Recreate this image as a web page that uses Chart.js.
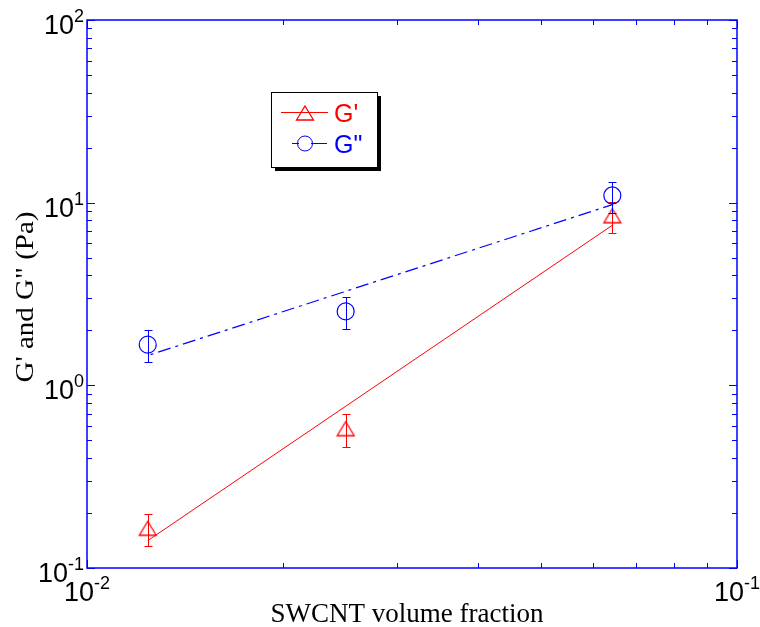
<!DOCTYPE html>
<html>
<head>
<meta charset="utf-8">
<script src="https://cdn.jsdelivr.net/npm/chart.js@4/dist/chart.umd.min.js"></script>
<style>
  html, body { margin: 0; padding: 0; background: #ffffff; }
  #wrap { width: 760px; height: 627px; position: relative; }
</style>
</head>
<body>
<div id="wrap"><canvas id="c" width="760" height="627"></canvas></div>
<script>
// ---- data ----
const volumeFraction   = [0.0124, 0.025, 0.0643];
const gPrime           = [0.165, 0.579, 8.48];
const gPrimeLow        = [0.132, 0.4625, 6.8];
const gPrimeHigh       = [0.197, 0.696, 10.1];
const gDoublePrime     = [1.67, 2.54, 10.95];
const gDoublePrimeLow  = [1.335, 2.04, 8.73];
const gDoublePrimeHigh = [2.0, 3.05, 13.02];
const fitX             = [0.0124, 0.0643];
const gPrimeFit        = [0.1412, 7.52];
const gDoublePrimeFit  = [1.455, 9.75];
const xTickExponents   = [-2, -1];
const yTickExponents   = [-1, 0, 1, 2];
const seriesNames      = ["G'", 'G"'];
const xAxisTitle       = 'SWCNT volume fraction';
const yAxisTitle       = 'G\' and G" (Pa)';

const RED = '#ff0000';
const BLUE = '#0000ff';
const SANS = '"Liberation Sans", Arial, sans-serif';
const SERIF = '"Liberation Serif", "Times New Roman", serif';
const DASHDOT = [13, 5, 3, 5];

// triangle marker whose bounding box is centred on the point (MATLAB style)
function makeTriangle(color) {
  const c = document.createElement('canvas');
  c.width = 22; c.height = 22;
  const g = c.getContext('2d');
  const w = 17, h = 14;
  g.strokeStyle = color; g.lineWidth = 1.3;
  g.beginPath();
  g.moveTo(11, 11 - h / 2);
  g.lineTo(11 + w / 2, 11 + h / 2);
  g.lineTo(11 - w / 2, 11 + h / 2);
  g.closePath();
  g.stroke();
  return c;
}
const triRed = makeTriangle(RED);

function pts(xs, ys) { return xs.map((x, i) => ({ x: x, y: ys[i] })); }

function drawPow(ctx, exp, x, baseY, align) {
  const base = '10', sup = String(exp);
  ctx.font = '27px ' + SANS;
  const wb = ctx.measureText(base).width;
  ctx.font = '18px ' + SANS;
  const ws = ctx.measureText(sup).width;
  const total = wb + ws;
  let left = align === 'right' ? x - total : x - total / 2;
  ctx.fillStyle = '#000';
  ctx.textAlign = 'left';
  ctx.textBaseline = 'alphabetic';
  ctx.font = '27px ' + SANS;
  ctx.fillText(base, left, baseY);
  ctx.font = '18px ' + SANS;
  ctx.fillText(sup, left + wb, baseY - 12);
}

const axesPlugin = {
  id: 'matlabAxes',
  afterDatasetsDraw(chart) {
    const ctx = chart.ctx;
    const xs = chart.scales.x, ys = chart.scales.y;
    const a = chart.chartArea;
    ctx.save();

    // error bars
    function errBars(lo, hi, color) {
      ctx.strokeStyle = color; ctx.lineWidth = 1;
      volumeFraction.forEach((v, i) => {
        const px = Math.round(xs.getPixelForValue(v)) + 0.5;
        const y1 = Math.round(ys.getPixelForValue(lo[i])) + 0.5;
        const y2 = Math.round(ys.getPixelForValue(hi[i])) + 0.5;
        ctx.beginPath();
        ctx.moveTo(px, y1); ctx.lineTo(px, y2);
        ctx.moveTo(px - 4, y1); ctx.lineTo(px + 4, y1);
        ctx.moveTo(px - 4, y2); ctx.lineTo(px + 4, y2);
        ctx.stroke();
      });
    }
    errBars(gPrimeLow, gPrimeHigh, RED);
    errBars(gDoublePrimeLow, gDoublePrimeHigh, BLUE);

    // frame
    ctx.strokeStyle = BLUE; ctx.lineWidth = 1.5;
    ctx.strokeRect(a.left, a.top, a.right - a.left, a.bottom - a.top);

    // ticks (inward, all sides)
    ctx.lineWidth = 1;
    const MAJ = 8, MIN = 5;
    ctx.beginPath();
    for (let e = xTickExponents[0]; e < xTickExponents[xTickExponents.length - 1]; e++) {
      for (let m = 1; m <= 10; m++) {
        const v = m * Math.pow(10, e);
        const px = Math.round(xs.getPixelForValue(v)) + 0.5;
        const len = (m === 1 || m === 10) ? MAJ : MIN;
        ctx.moveTo(px, a.bottom); ctx.lineTo(px, a.bottom - len);
        ctx.moveTo(px, a.top); ctx.lineTo(px, a.top + len);
      }
    }
    for (let e = yTickExponents[0]; e < yTickExponents[yTickExponents.length - 1]; e++) {
      for (let m = 1; m <= 10; m++) {
        const v = m * Math.pow(10, e);
        const py = Math.round(ys.getPixelForValue(v)) + 0.5;
        const len = (m === 1 || m === 10) ? MAJ : MIN;
        ctx.moveTo(a.left, py); ctx.lineTo(a.left + len, py);
        ctx.moveTo(a.right, py); ctx.lineTo(a.right - len, py);
      }
    }
    ctx.stroke();

    // tick labels
    yTickExponents.forEach(e => {
      const py = ys.getPixelForValue(Math.pow(10, e));
      drawPow(ctx, e, a.left - 3, py + 14, 'right');
    });
    xTickExponents.forEach(e => {
      const px = xs.getPixelForValue(Math.pow(10, e));
      drawPow(ctx, e, px, 601, 'center');
    });

    // axis titles
    ctx.fillStyle = '#000';
    ctx.font = '27px ' + SERIF;
    ctx.textAlign = 'center';
    ctx.textBaseline = 'alphabetic';
    ctx.fillText(xAxisTitle, (a.left + a.right) / 2 - 5, 622);
    ctx.save();
    ctx.translate(33, 297);
    ctx.scale(0.85, 1);
    ctx.rotate(-Math.PI / 2);
    ctx.font = '29px ' + SERIF;
    ctx.fillText(yAxisTitle, 0, 0);
    ctx.restore();

    // legend box with shadow
    const bx = 271, by = 92, bw = 106, bh = 75;
    ctx.fillStyle = '#000';
    ctx.fillRect(bx + 4, by + 4, bw, bh);
    ctx.fillStyle = '#fff';
    ctx.fillRect(bx, by, bw, bh);
    ctx.strokeStyle = '#000'; ctx.lineWidth = 1;
    ctx.strokeRect(bx + 0.5, by + 0.5, bw, bh);

    // legend entry 1
    ctx.strokeStyle = RED; ctx.lineWidth = 1;
    ctx.beginPath(); ctx.moveTo(281, 112.5); ctx.lineTo(328, 112.5); ctx.stroke();
    ctx.drawImage(triRed, 305 - 11, 113 - 11);
    ctx.fillStyle = RED;
    ctx.font = '25px ' + SANS;
    ctx.textAlign = 'left';
    ctx.fillText(seriesNames[0], 334, 122);

    // legend entry 2
    ctx.strokeStyle = BLUE;
    ctx.beginPath(); ctx.moveTo(292, 143.5); ctx.lineTo(299, 143.5);
    ctx.moveTo(311, 143.5); ctx.lineTo(327, 143.5); ctx.stroke();
    ctx.beginPath(); ctx.arc(305, 143.5, 7.5, 0, Math.PI * 2); ctx.stroke();
    ctx.fillStyle = BLUE;
    ctx.fillText(seriesNames[1], 334, 153);

    ctx.restore();
  }
};

new Chart(document.getElementById('c'), {
  type: 'scatter',
  data: {
    datasets: [
      {
        label: seriesNames[0] + ' fit',
        data: pts(fitX, gPrimeFit),
        showLine: true, borderColor: RED, borderWidth: 1,
        pointRadius: 0, fill: false
      },
      {
        label: seriesNames[1] + ' fit',
        data: pts(fitX, gDoublePrimeFit),
        showLine: true, borderColor: BLUE, borderWidth: 1.2,
        borderDash: DASHDOT, borderDashOffset: -11,
        pointRadius: 0, fill: false
      },
      {
        label: seriesNames[0],
        data: pts(volumeFraction, gPrime),
        showLine: false, pointStyle: triRed, pointRadius: 9,
        borderColor: RED, backgroundColor: 'rgba(0,0,0,0)'
      },
      {
        label: seriesNames[1],
        data: pts(volumeFraction, gDoublePrime),
        showLine: false, pointStyle: 'circle', pointRadius: 8.5, borderWidth: 1.2,
        borderColor: BLUE, backgroundColor: 'rgba(0,0,0,0)'
      }
    ]
  },
  options: {
    responsive: false,
    animation: false,
    events: [],
    layout: { padding: { left: 87, top: 20, right: 23, bottom: 59 } },
    plugins: { legend: { display: false }, tooltip: { enabled: false } },
    scales: {
      x: { type: 'logarithmic', min: 0.01, max: 0.1, display: false },
      y: { type: 'logarithmic', min: 0.1, max: 100, display: false }
    }
  },
  plugins: [axesPlugin]
});
</script>
</body>
</html>
